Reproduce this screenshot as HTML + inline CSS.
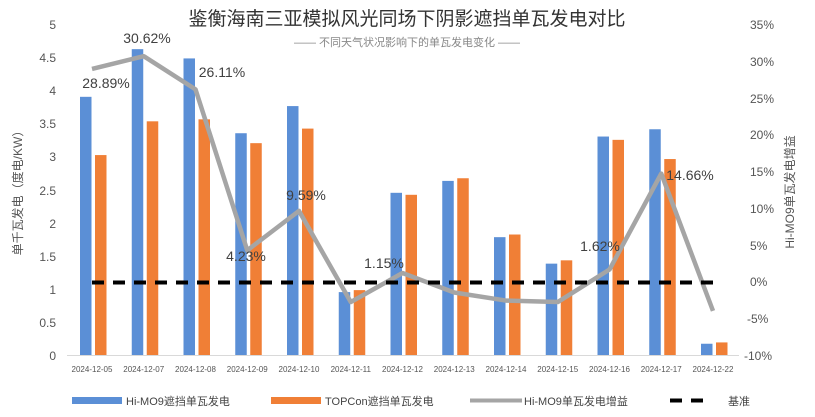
<!DOCTYPE html>
<html><head><meta charset="utf-8"><style>
body{margin:0;background:#fff}
svg{display:block}
text{font-family:"Liberation Sans","Noto Sans CJK SC",sans-serif}
</style></head><body>
<svg width="815" height="417" viewBox="0 0 815 417" xmlns="http://www.w3.org/2000/svg">
<text x="407" y="25" font-size="19" text-anchor="middle" fill="#333">鉴衡海南三亚模拟风光同场下阴影遮挡单瓦发电对比</text>
<text x="407" y="46" font-size="11" text-anchor="middle" fill="#888">—— 不同天气状况影响下的单瓦发电变化 ——</text>
<g font-size="12" fill="#555" text-anchor="end">
<text x="56" y="29">5</text><text x="56" y="62">4.5</text><text x="56" y="95">4</text><text x="56" y="128">3.5</text><text x="56" y="161">3</text><text x="56" y="195">2.5</text><text x="56" y="228">2</text><text x="56" y="261">1.5</text><text x="56" y="294">1</text><text x="56" y="327">0.5</text><text x="56" y="360">0</text>
</g>
<g font-size="12" fill="#555" text-anchor="start">
<text x="750" y="29">35%</text><text x="750" y="66">30%</text><text x="750" y="103">25%</text><text x="750" y="139">20%</text><text x="750" y="176">15%</text><text x="750" y="213">10%</text><text x="750" y="250">5%</text><text x="750" y="286">0%</text><text x="747" y="323">-5%</text><text x="744" y="360">-10%</text>
</g>
<text transform="translate(22,190) rotate(-90)" font-size="12" fill="#555" text-anchor="middle">单千瓦发电（度电/KW）</text>
<text transform="translate(794,192) rotate(-90)" font-size="12" fill="#555" text-anchor="middle">Hi-MO9单瓦发电增益</text>
<line x1="67" y1="355.5" x2="739" y2="355.5" stroke="#d9d9d9"/>
<g id="bars"></g>
<g font-size="8" fill="#555" text-anchor="middle" id="xl"></g>
<polyline id="gain" fill="none" stroke="#a5a5a5" stroke-width="4.5" stroke-linejoin="round"/>
<line x1="92" y1="282.5" x2="713" y2="282.5" stroke="#000" stroke-width="4" stroke-dasharray="12,9"/>
<g font-size="14" fill="#404040" text-anchor="middle">
<text x="106" y="88">28.89%</text><text x="147" y="43">30.62%</text><text x="222" y="77">26.11%</text><text x="246" y="261">4.23%</text><text x="306" y="200">9.59%</text><text x="384" y="268">1.15%</text><text x="600" y="251">1.62%</text><text x="690" y="180">14.66%</text>
</g>
<g font-size="11" fill="#444">
<rect x="72" y="397" width="50" height="7" fill="#5b8fd6"/><text x="126" y="405">Hi-MO9遮挡单瓦发电</text>
<rect x="271" y="397" width="50" height="7" fill="#f07f36"/><text x="325" y="405">TOPCon遮挡单瓦发电</text>
<line x1="470" y1="400.5" x2="522" y2="400.5" stroke="#a5a5a5" stroke-width="4"/><text x="524" y="405">Hi-MO9单瓦发电增益</text>
<line x1="670" y1="400.5" x2="712" y2="400.5" stroke="#000" stroke-width="4" stroke-dasharray="12,9"/><text x="728" y="405">基准</text>
</g>
<script>
var b=[3.9,4.62,4.48,3.35,3.76,0.95,2.45,2.63,1.78,1.38,3.3,3.41,0.17];
var o=[3.02,3.53,3.56,3.2,3.42,0.98,2.42,2.67,1.82,1.43,3.25,2.96,0.19];
var g=[28.89,30.62,26.11,4.23,9.59,-2.8,1.15,-1.5,-2.6,-2.8,1.62,14.66,-4.0];
var d=["05","07","08","09","10","11","12","13","14","15","16","17","22"];
var ns="http://www.w3.org/2000/svg",bs=document.getElementById("bars"),xl=document.getElementById("xl"),pts=[];
for(var i=0;i<13;i++){var c=92+i*51.75;
function r(x,v,f){var e=document.createElementNS(ns,"rect");var h=v*66.2;e.setAttribute("x",x);e.setAttribute("y",355-h);e.setAttribute("width",11.5);e.setAttribute("height",h);e.setAttribute("fill",f);bs.appendChild(e);}
r(c-12,b[i],"#5b8fd6");r(c+3,o[i],"#f07f36");
var t=document.createElementNS(ns,"text");t.setAttribute("x",c);t.setAttribute("y",372);t.textContent="2024-12-"+d[i];xl.appendChild(t);
pts.push(c+","+(355-(g[i]+10)*7.356));}
document.getElementById("gain").setAttribute("points",pts.join(" "));
</script>
</svg>
</body></html>
